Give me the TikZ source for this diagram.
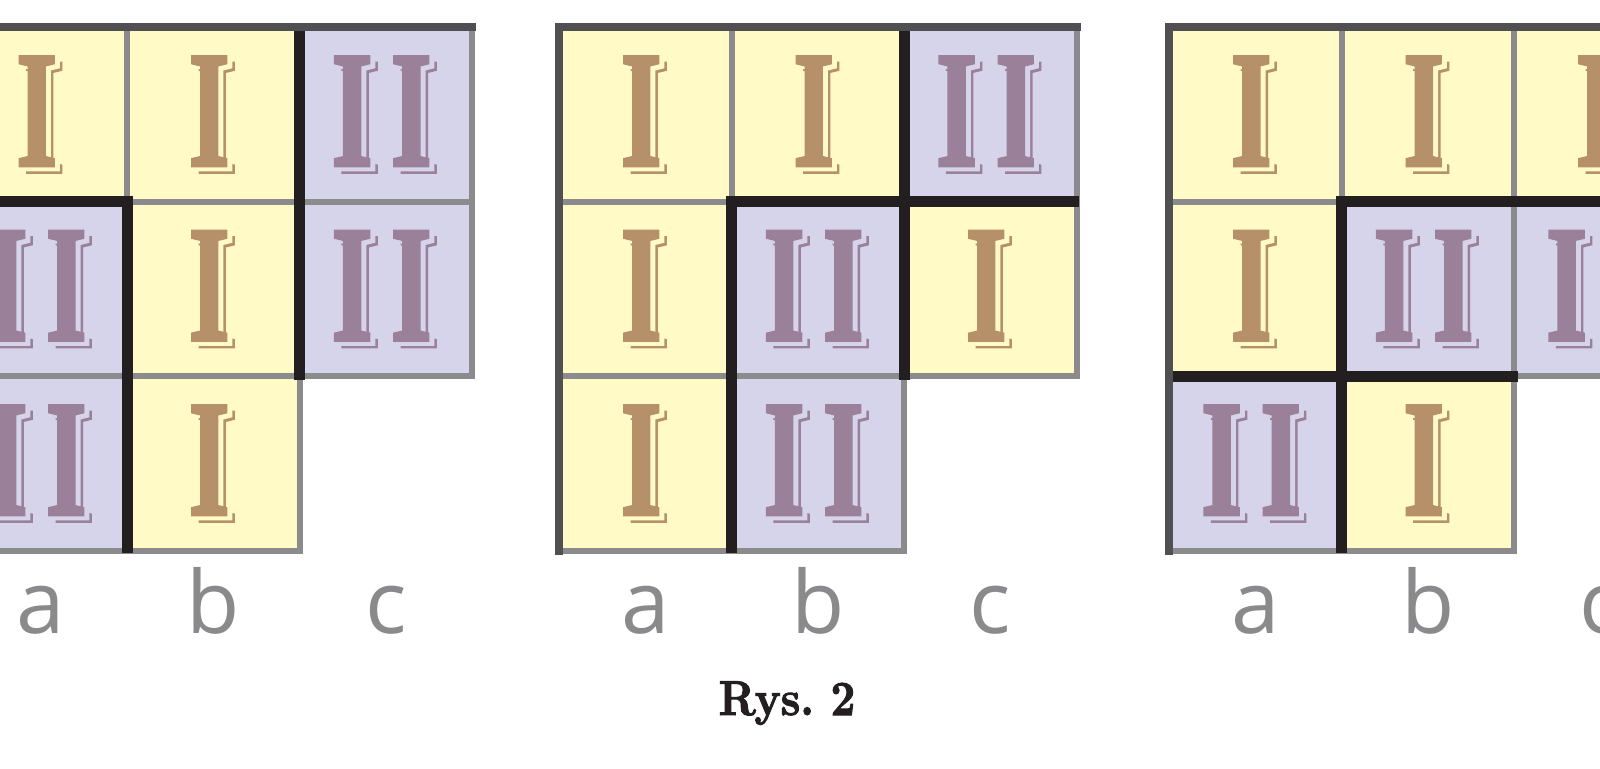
\documentclass[tikz,border=0pt]{standalone}
\usepackage{fontspec}
\usetikzlibrary{calc}
\newfontfamily\lblfont{Open Sans}
\newfontfamily\numfont[FakeBold=2]{Liberation Serif Bold}
\newfontfamily\capfont[FakeBold=2]{lmroman10-bold.otf}
\definecolor{cY}{HTML}{FFFAC6}
\definecolor{cL}{HTML}{D6D4EA}
\definecolor{nI}{HTML}{B69068}
\definecolor{nII}{HTML}{9A8098}
\definecolor{gridG}{HTML}{8B8B8D}
\definecolor{edgeD}{HTML}{505052}
\definecolor{heavyK}{HTML}{231F20}
\definecolor{lblG}{HTML}{8A8A8C}
\pgfdeclarelayer{gridl}
\pgfdeclarelayer{heavyl}
\pgfdeclarelayer{edgel}
\pgfsetlayers{main,gridl,heavyl,edgel}
\newcommand\cw{172.5}
\newcommand\ch{174.5}
\newcommand\gy{27}
\newcommand\glyphI{\scalebox{0.64}[1]{I}}
\newcommand\glyphII{\scalebox{0.64}[1]{I\kern28pt I}}
\tikzset{
  numeral/.style={inner sep=0pt, font=\numfont\fontsize{166}{166}\selectfont},
  cellgrid/.style={draw=gridG, line width=6pt},
  edge/.style={draw=edgeD, line width=8pt, line cap=rect},
  heavy/.style={draw=heavyK, line width=11pt, line cap=rect},
  lbl/.style={text=lblG, font=\lblfont\fontsize{87}{87}\selectfont, anchor=base, inner sep=0pt},
  caption/.style={text=heavyK, font=\capfont\fontsize{49}{49}\selectfont, anchor=base, inner sep=0pt}
}
% #1 name, #2 origin x, #3 col, #4 row, #5 fill, #6 ink, #7 glyph
\newcommand\putcell[7]{%
  \fill[#5] ({#2+#3*\cw},{\gy+#4*\ch}) rectangle ++(\cw,\ch);
  \begin{pgfonlayer}{gridl}
    \draw[cellgrid] ({#2+#3*\cw},{\gy+#4*\ch}) rectangle ++(\cw,\ch);
  \end{pgfonlayer}
  \node[numeral,text=#6] (#1-s) at ({#2+(#3+0.5)*\cw+3.5},{\gy+(#4+0.5)*\ch+3.5}) {#7};
  \node[numeral,text=#5] (#1-g) at ({#2+(#3+0.5)*\cw+1},{\gy+(#4+0.5)*\ch+1}) {#7};
  \node[numeral,text=#6] (#1) at ({#2+(#3+0.5)*\cw-4},{\gy+(#4+0.5)*\ch-3}) {#7};
}
% #1 prefix, #2 origin
\newcommand\putlabels[2]{%
  \node[lbl] (#1-la) at ({#2+0.5*\cw},633) {a};
  \node[lbl] (#1-lb) at ({#2+1.5*\cw},633) {b};
  \node[lbl] (#1-lc) at ({#2+2.5*\cw},633) {c};
}
\newcommand\putedges[1]{%
  \begin{pgfonlayer}{edgel}
    \draw[edge] ({#1},{\gy+3*\ch}) -- ({#1},\gy) -- ({#1+3*\cw},\gy);
  \end{pgfonlayer}
}
\begin{document}
\begin{tikzpicture}[x=1pt,y=-1pt]
\useasboundingbox (0,0) rectangle (1600,768);
\clip (0,0) rectangle (1600,768);
\fill[white] (0,0) rectangle (1600,768);

% ---------------- left grid
\def\oL{-45.5}
\putcell{L-a1}{\oL}{0}{0}{cY}{nI}{\glyphI}
\putcell{L-b1}{\oL}{1}{0}{cY}{nI}{\glyphI}
\putcell{L-c1}{\oL}{2}{0}{cL}{nII}{\glyphII}
\putcell{L-a2}{\oL}{0}{1}{cL}{nII}{\glyphII}
\putcell{L-b2}{\oL}{1}{1}{cY}{nI}{\glyphI}
\putcell{L-c2}{\oL}{2}{1}{cL}{nII}{\glyphII}
\putcell{L-a3}{\oL}{0}{2}{cL}{nII}{\glyphII}
\putcell{L-b3}{\oL}{1}{2}{cY}{nI}{\glyphI}
\begin{pgfonlayer}{heavyl}
  \draw[heavy] ({\oL+2*\cw},{\gy+6}) -- ({\oL+2*\cw},{\gy+2*\ch-2});
  \draw[heavy] ({\oL+6},{\gy+\ch}) -- ({\oL+\cw},{\gy+\ch}) -- ({\oL+\cw},{\gy+3*\ch-3});
\end{pgfonlayer}
\putedges{\oL}
\putlabels{L}{\oL}

% ---------------- middle grid
\def\oM{559}
\putcell{M-a1}{\oM}{0}{0}{cY}{nI}{\glyphI}
\putcell{M-b1}{\oM}{1}{0}{cY}{nI}{\glyphI}
\putcell{M-c1}{\oM}{2}{0}{cL}{nII}{\glyphII}
\putcell{M-a2}{\oM}{0}{1}{cY}{nI}{\glyphI}
\putcell{M-b2}{\oM}{1}{1}{cL}{nII}{\glyphII}
\putcell{M-c2}{\oM}{2}{1}{cY}{nI}{\glyphI}
\putcell{M-a3}{\oM}{0}{2}{cY}{nI}{\glyphI}
\putcell{M-b3}{\oM}{1}{2}{cL}{nII}{\glyphII}
\begin{pgfonlayer}{heavyl}
  \draw[heavy] ({\oM+2*\cw},{\gy+6}) -- ({\oM+2*\cw},{\gy+2*\ch-2});
  \draw[heavy] ({\oM+3*\cw-3},{\gy+\ch}) -- ({\oM+\cw},{\gy+\ch}) -- ({\oM+\cw},{\gy+3*\ch-3});
\end{pgfonlayer}
\putedges{\oM}
\putlabels{M}{\oM}

% ---------------- right grid
\def\oR{1169}
\putcell{R-a1}{\oR}{0}{0}{cY}{nI}{\glyphI}
\putcell{R-b1}{\oR}{1}{0}{cY}{nI}{\glyphI}
\putcell{R-c1}{\oR}{2}{0}{cY}{nI}{\glyphI}
\putcell{R-a2}{\oR}{0}{1}{cY}{nI}{\glyphI}
\putcell{R-b2}{\oR}{1}{1}{cL}{nII}{\glyphII}
\putcell{R-c2}{\oR}{2}{1}{cL}{nII}{\glyphII}
\putcell{R-a3}{\oR}{0}{2}{cL}{nII}{\glyphII}
\putcell{R-b3}{\oR}{1}{2}{cY}{nI}{\glyphI}
\begin{pgfonlayer}{heavyl}
  \draw[heavy] ({\oR+3*\cw-3},{\gy+\ch}) -- ({\oR+\cw},{\gy+\ch}) -- ({\oR+\cw},{\gy+3*\ch-3});
  \draw[heavy] ({\oR+6},{\gy+2*\ch}) -- ({\oR+2*\cw-2},{\gy+2*\ch});
\end{pgfonlayer}
\putedges{\oR}
\putlabels{R}{\oR}

% ---------------- caption
\node[caption] (cap) at (787,715) {\scalebox{0.88}[1]{Rys.\ 2}};
\end{tikzpicture}
\end{document}
